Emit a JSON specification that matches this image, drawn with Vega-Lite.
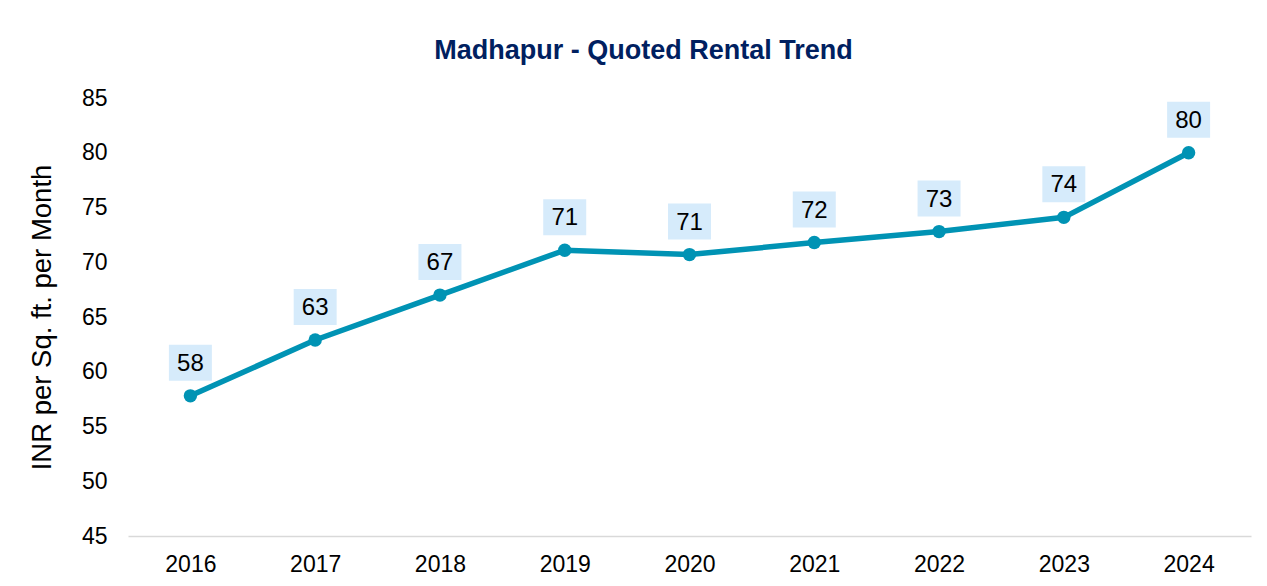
{
  "$schema": "https://vega.github.io/schema/vega-lite/v6.json",
  "autosize": "none",
  "width": 1123,
  "height": 438,
  "padding": {"left": 128, "top": 98, "right": 16, "bottom": 50},
  "background": "white",
  "config": {"view": {"stroke": null}, "font": "Liberation Sans"},
  "title": {
    "text": "Madhapur - Quoted Rental Trend",
    "font": "Liberation Sans",
    "fontSize": 27,
    "fontWeight": "bold",
    "color": "#002060",
    "anchor": "middle",
    "dx": -46,
    "offset": -5,
    "baseline": "bottom"
  },
  "data": {
    "values": [
      {"year": "2016", "rent": 57.8},
      {"year": "2017", "rent": 62.9},
      {"year": "2018", "rent": 67.0},
      {"year": "2019", "rent": 71.1},
      {"year": "2020", "rent": 70.7},
      {"year": "2021", "rent": 71.8},
      {"year": "2022", "rent": 72.8},
      {"year": "2023", "rent": 74.1},
      {"year": "2024", "rent": 80.0}
    ]
  },
  "encoding": {
    "x": {
      "field": "year",
      "type": "ordinal",
      "scale": {"type": "point", "padding": 0.5},
      "axis": {
        "title": null,
        "labelAngle": 0,
        "labelFontSize": 23,
        "labelColor": "#000000",
        "labelFont": "Liberation Sans",
        "labelPadding": 17,
        "ticks": false,
        "domainColor": "#d9d9d9",
        "domainWidth": 1.5,
        "grid": false
      }
    },
    "y": {
      "field": "rent",
      "type": "quantitative",
      "scale": {"domain": [45, 85], "zero": false, "nice": false},
      "axis": {
        "title": "INR per Sq. ft. per Month",
        "titleFontSize": 27.5,
        "titleFontWeight": "normal",
        "titleColor": "#000000",
        "titleFont": "Liberation Sans",
        "titlePadding": 25,
        "values": [45, 50, 55, 60, 65, 70, 75, 80, 85],
        "labelFontSize": 23,
        "labelColor": "#000000",
        "labelFont": "Liberation Sans",
        "labelPadding": 21,
        "ticks": false,
        "domain": false,
        "grid": false
      }
    }
  },
  "layer": [
    {"mark": {"type": "line", "color": "#0093b4", "strokeWidth": 5.5}},
    {"mark": {"type": "point", "filled": true, "color": "#0093b4", "size": 180, "opacity": 1}},
    {
      "mark": {
        "type": "point",
        "shape": "M-1.194,-1L1.194,-1L1.194,1L-1.194,1Z",
        "filled": true,
        "color": "#d6ebfb",
        "opacity": 1,
        "size": 1296,
        "yOffset": -33
      }
    },
    {
      "mark": {
        "type": "text",
        "fontSize": 24,
        "font": "Liberation Sans",
        "color": "#000000",
        "baseline": "middle",
        "dy": -32
      },
      "encoding": {"text": {"field": "rent", "type": "quantitative", "format": ".0f"}}
    }
  ]
}
